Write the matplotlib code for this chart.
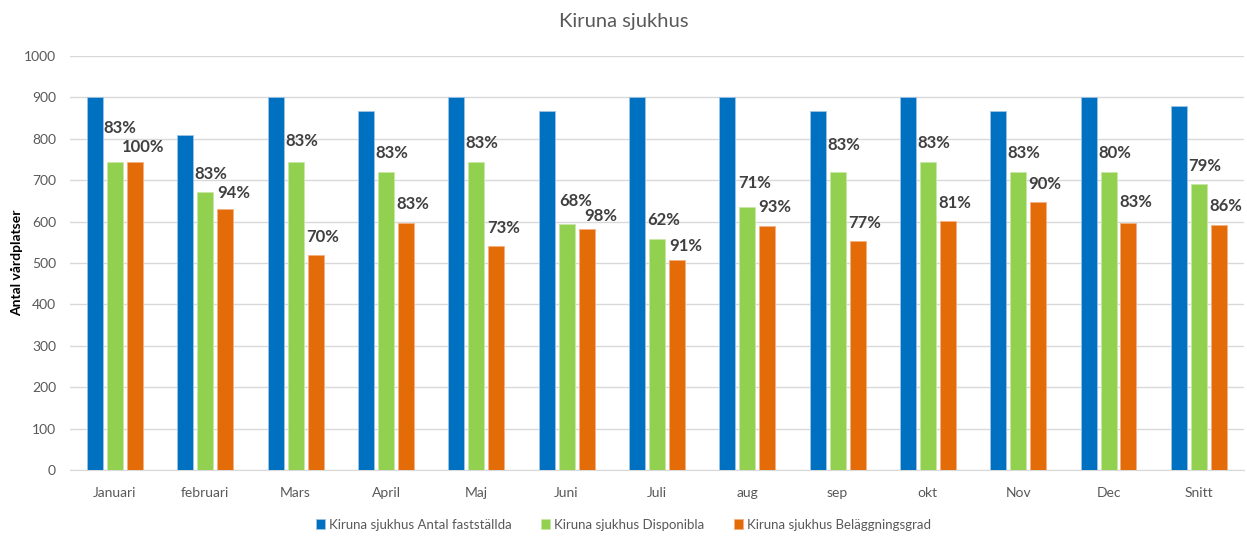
#!/usr/bin/python3

import matplotlib
matplotlib.use("Agg")
import matplotlib.pyplot as plt
import numpy as np


# data
months = ["Januari", "februari", "Mars", "April", "Maj", "Juni", "Juli",
          "aug", "sep", "okt", "Nov", "Dec", "Snitt"]
faststallda = [900, 810, 900, 868, 900, 868, 900, 900, 868, 900, 868, 900, 880]
disponibla = [744, 672, 744, 720, 744, 594, 558, 636, 720, 744, 720, 720, 690]
belaggning = [744, 630, 520, 596, 542, 582, 508, 590, 554, 602, 648, 596, 592]
disp_pct = ["83%", "83%", "83%", "83%", "83%", "68%", "62%",
            "71%", "83%", "83%", "83%", "80%", "79%"]
bel_pct = ["100%", "94%", "70%", "83%", "73%", "98%", "91%",
           "93%", "77%", "81%", "90%", "83%", "86%"]

series_names = ["Kiruna sjukhus Antal fastställda",
                "Kiruna sjukhus Disponibla",
                "Kiruna sjukhus Beläggningsgrad"]

# label placement (pixels above bar top to label centre, and sideways shift)
disp_lift = [34, 18, 21, 19, 19, 23, 19, 24, 27, 19, 19, 19, 18]
bel_lift = [15, 16, 18, 19, 18, 13, 14, 19, 18, 18, 18, 21, 19]
disp_shift = [5, 5, 6, 6, 6, 9, 7, 7, 6, 6, 6, 6, 6]
bel_shift = [8, 8, 7, 7, 7, 14, 9, 8, 7, 7, 7, 7, 7]


def main():

    plt.rcParams['font.family'] = ['Lato', 'DejaVu Sans']

    fig = plt.figure(figsize=(12.47, 5.36), dpi=100)
    ax = fig.add_axes([0.056, 0.123, 0.9416, 0.7725])

    x = np.arange(len(months))
    w = 0.177
    pitch = 0.221
    colors = ["#0070C0", "#92D050", "#E36C09"]

    b1 = ax.bar(x - pitch, faststallda, w, color=colors[0], zorder=3,
                edgecolor="#9DC3E6", linewidth=0.6, label=series_names[0])
    b2 = ax.bar(x, disponibla, w, color=colors[1], zorder=3,
                edgecolor="#C9E8A8", linewidth=0.6, label=series_names[1])
    b3 = ax.bar(x + pitch, belaggning, w, color=colors[2], zorder=3,
                edgecolor="#F4B183", linewidth=0.6, label=series_names[2])

    # data labels (offsets given in pixels, converted to points at dpi 100)
    px = 72.0 / 100
    for bars, labels, lift, shift in ((b2, disp_pct, disp_lift, disp_shift),
                                      (b3, bel_pct, bel_lift, bel_shift)):
        for rect, lab, dy, dx in zip(bars, labels, lift, shift):
            ax.annotate(lab, (rect.get_x() + rect.get_width() / 2, rect.get_height()),
                        xytext=(dx * px, dy * px), textcoords="offset points",
                        ha="center", va="center", fontsize=12, fontweight="bold",
                        color="#404040", zorder=4)

    ax.set_xlim(-0.5, len(months) - 0.5)
    ax.set_ylim(0, 1000)
    ax.set_yticks(np.arange(0, 1001, 100))
    ax.set_xticks(x)
    ax.set_xticklabels(months)
    ax.tick_params(axis="both", length=0, labelsize=10, colors="#595959")
    ax.tick_params(axis="x", pad=12)
    ax.tick_params(axis="y", pad=10)
    ax.grid(axis="y", color="#D9D9D9", linewidth=1, zorder=0)

    for s in ["top", "right", "left"]:
        ax.spines[s].set_visible(False)
    ax.spines["bottom"].set_color("#D9D9D9")

    ax.set_ylabel("Antal vårdplatser", fontsize=10, fontweight="bold", color="black")
    ax.yaxis.set_label_coords(-0.040, 0.5)

    fig.suptitle("Kiruna sjukhus", x=0.5, y=0.975, fontsize=14.5, color="#595959")

    fig.legend(handles=[b1, b2, b3], loc="lower center", bbox_to_anchor=(0.5, -0.012),
               ncol=3, frameon=False, fontsize=9.5, labelcolor="#595959",
               handlelength=0.7, handleheight=0.7, handletextpad=0.3,
               columnspacing=2.2)

    fig.savefig("out.png", dpi=100)


if __name__ == "__main__":
    main()
